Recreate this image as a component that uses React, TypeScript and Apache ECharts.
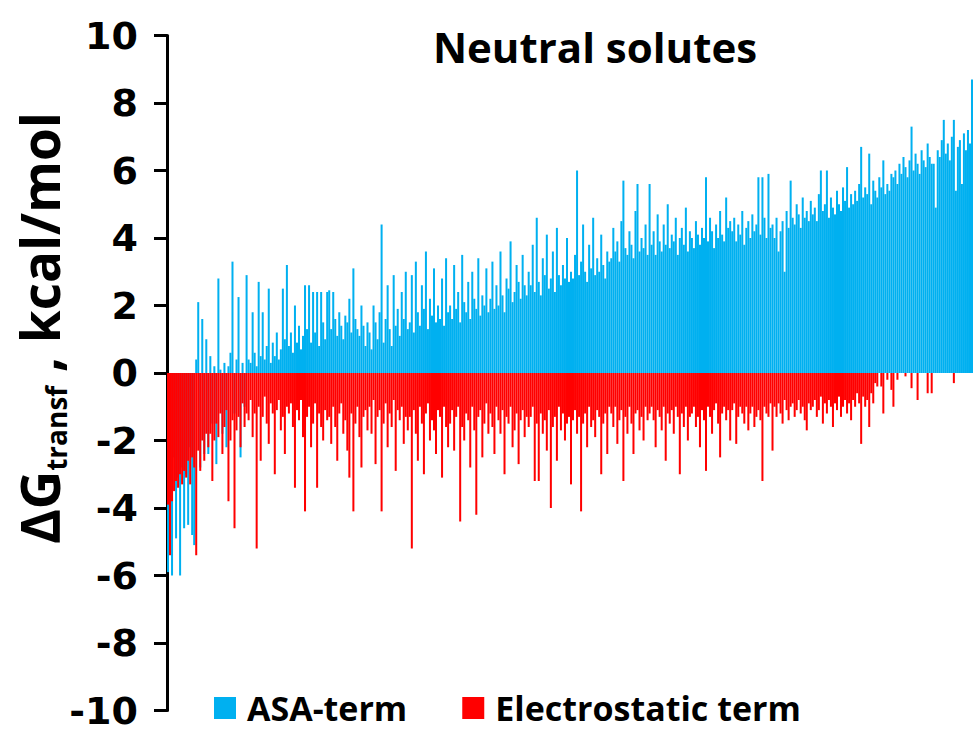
import React, { useEffect, useRef } from "react";
import * as echarts from "echarts";

const TITLE = "Neutral solutes";
const ASA_NAME = "ASA-term";
const ELEC_NAME = "Electrostatic term";
const Y_MIN = -10;
const Y_MAX = 10;
const Y_STEP = 2;

// ASA-term values (kcal/mol), solutes ordered left to right
const asaTerm = [
  -5.9, -3.0, -6.0, -2.5, -4.9, -3.1, -6.0, -2.8, -4.6, -3.0, -4.5, -2.2, -4.8, -5.1, 0.4, 2.1, -2.8, 1.6, -2.4, 1.0,
  -2.4, 0.5, -1.5, 0.2, -2.7, 2.8, 0.1, -1.8, 0.3, -2.2, 0.2, 0.6, 3.3, -1.2, 0.4, 2.25, -2.5, 0.3, -1.0, 2.9,
  0.4, 0.3, 1.8, 0.6, 0.2, 2.7, 0.5, 1.8, 0.4, 0.8, 2.5, 0.3, 0.9, 0.5, 1.2, 0.4, 0.7, 2.5, 1.0, 3.2,
  0.8, 1.2, 0.6, 2.0, 0.9, 1.4, 0.7, 1.1, 2.6, 1.3, 2.6, 0.9, 2.4, 1.2, 2.4, 0.8, 2.4, 1.5, 1.0, 2.4,
  2.45, 1.3, 2.4, 1.6, 1.1, 1.8, 1.4, 1.0, 1.7, 1.5, 2.2, 1.2, 3.1, 1.6, 1.3, 1.1, 2.0, 1.4, 0.8, 1.5,
  1.2, 0.7, 2.0, 1.5, 1.0, 1.8, 4.4, 0.9, 1.6, 2.6, 1.3, 0.8, 2.9, 1.4, 1.9, 1.1, 2.4, 1.6, 3.0, 1.3,
  1.5, 2.9, 1.2, 3.3, 1.8, 1.4, 2.6, 1.9, 3.6, 1.3, 2.2, 1.7, 3.1, 1.5, 2.0, 1.6, 2.8, 1.4, 3.4, 1.8,
  2.0, 1.6, 3.2, 1.9, 2.4, 1.5, 3.5, 2.1, 1.8, 2.7, 1.6, 3.0, 2.2, 1.9, 3.4, 1.7, 2.3, 2.0, 3.1, 1.8,
  2.2, 3.3, 1.9, 2.6, 2.0, 3.6, 2.3, 1.8, 2.8, 2.5, 3.9, 2.1, 2.4, 3.2, 2.7, 2.2, 3.5, 2.6, 2.3, 3.0,
  2.6, 3.8, 2.4, 4.6, 2.7, 2.3, 3.4, 2.9, 4.1, 2.5, 2.8, 3.6, 2.4, 4.3, 2.9, 2.6, 3.2, 2.8, 4.0, 2.7,
  3.0, 2.8, 3.5, 6.0, 2.9, 3.3, 4.4, 3.0, 2.7, 3.8, 3.1, 4.6, 2.9, 3.4, 3.0, 4.1, 3.2, 2.8, 3.6, 3.3,
  3.4, 4.3, 3.6, 3.9, 3.3, 4.5, 5.7, 3.7, 3.5, 4.2, 3.8, 3.4, 4.8, 5.6, 3.6, 4.0, 3.7, 4.4, 3.5, 5.6,
  3.8, 4.2, 3.5, 4.7, 3.9, 3.6, 4.4, 3.8, 5.0, 3.7, 4.1, 3.9, 4.6, 3.5, 4.0, 4.3, 3.8, 4.9, 3.6, 4.2,
  4.0, 3.7, 4.5, 4.1, 3.8, 4.3, 4.0, 5.8, 3.9, 4.6, 4.2, 3.7, 4.4, 4.0, 4.8, 4.1, 3.9, 5.2, 4.3, 4.5,
  4.2, 4.6, 3.9, 4.4, 4.1, 4.8, 3.8, 4.3, 4.5, 4.0, 4.7, 4.2, 4.4, 5.8, 4.1, 5.8, 4.6, 4.0, 5.9, 4.3,
  4.4, 4.0, 4.6, 3.6, 4.2, 4.5, 3.0, 4.8, 4.3, 5.7, 4.6, 4.4, 5.0, 4.7, 4.3, 5.2, 4.6, 4.8, 4.5, 5.1,
  4.7, 4.9, 4.5, 5.3, 6.0, 4.8, 5.0, 6.0, 4.6, 5.2, 4.9, 4.7, 5.4, 5.0, 4.8, 5.5, 5.1, 6.1, 4.9, 5.3,
  5.0, 5.4, 5.1, 5.6, 6.7, 5.2, 5.5, 5.3, 6.5, 5.0, 5.7, 5.4, 5.2, 5.8, 5.5, 6.3, 5.3, 5.6, 5.4, 5.9,
  5.8, 6.0, 5.6, 6.2, 5.9, 6.4, 6.1, 5.8, 6.3, 7.3, 6.0, 6.5, 6.2, 5.9, 6.6, 6.3, 6.1, 6.8, 6.4, 6.2,
  6.2, 4.9, 6.6, 6.4, 6.9, 7.5, 6.5, 6.8, 6.3, 7.0, 7.5, 5.4, 6.7, 6.9, 5.6, 7.1, 6.6, 7.2, 6.8, 8.7,
];

// Electrostatic term values (kcal/mol), same solutes
const electrostaticTerm = [
  -3.9, -5.4, -3.8, -3.5, -3.2, -3.4, -3.0, -3.3, -2.9, -3.1, -2.6, -3.3, -2.5, -2.8, -5.4, -2.3, -2.9, -2.0, -2.6, -1.8,
  -2.2, -1.8, -3.2, -2.0, -1.5, -1.9, -1.2, -2.4, -1.6, -1.1, -3.8, -2.0, -1.4, -4.6, -1.7, -1.3, -2.2, -0.9, -1.6, -1.2,
  -1.4, -0.8, -1.9, -1.2, -5.2, -1.0, -2.6, -1.3, -0.7, -1.5, -2.1, -0.9, -1.2, -3.0, -1.1, -0.8, -1.7, -1.3, -2.4, -1.0,
  -1.2, -0.9, -1.6, -3.4, -1.1, -1.4, -0.8, -1.9, -4.1, -1.3, -1.0, -2.2, -1.5, -0.9, -3.4, -1.2, -1.6, -2.0, -1.1, -1.4,
  -1.3, -2.1, -1.0, -1.6, -2.6, -1.2, -0.9, -1.8, -1.4, -2.3, -3.1, -1.2, -4.1, -1.5, -1.0, -1.9, -2.8, -1.3, -1.1, -1.7,
  -1.0, -1.8, -0.8, -2.7, -1.3, -1.1, -4.1, -1.5, -0.9, -2.2, -1.2, -1.6, -0.8, -2.9, -1.1, -1.4, -1.0, -2.1, -1.3, -1.7,
  -1.3, -5.2, -1.1, -1.8, -2.6, -1.0, -1.5, -3.0, -1.2, -0.9, -2.0, -1.4, -1.7, -2.4, -1.1, -1.3, -3.1, -1.0, -1.6, -2.2,
  -1.5, -1.1, -2.3, -1.3, -1.0, -4.4, -1.6, -2.0, -1.2, -1.4, -2.8, -1.0, -1.7, -4.2, -1.3, -1.1, -2.5, -1.5, -0.9, -1.8,
  -1.2, -1.6, -2.4, -1.0, -1.4, -1.8, -1.1, -3.0, -1.3, -1.5, -1.0, -2.2, -1.7, -1.2, -2.7, -1.4, -1.1, -1.9, -1.3, -1.6,
  -1.3, -1.0, -3.2, -1.5, -3.2, -1.2, -1.8, -1.4, -2.3, -1.1, -4.0, -1.6, -1.3, -2.6, -1.0, -1.7, -1.2, -2.0, -1.5, -1.3,
  -3.3, -1.4, -1.1, -1.8, -1.3, -4.1, -1.5, -1.2, -2.2, -1.0, -1.6, -1.4, -1.9, -1.1, -1.3, -3.0, -1.5, -1.2, -2.4, -1.0,
  -1.2, -1.6, -1.0, -2.1, -1.4, -1.1, -3.2, -1.3, -1.8, -1.0, -1.5, -2.4, -1.2, -1.1, -1.7, -1.3, -2.0, -1.0, -1.4, -1.2,
  -1.0, -1.4, -2.2, -1.1, -1.3, -1.7, -1.0, -2.6, -1.2, -1.5, -1.1, -1.8, -1.0, -1.3, -3.0, -1.2, -1.6, -1.0, -2.0, -1.3,
  -1.2, -1.0, -1.6, -1.3, -2.2, -1.1, -1.4, -2.9, -1.0, -1.3, -1.8, -1.1, -0.9, -1.5, -2.5, -1.2, -1.0, -1.4, -1.1, -2.0,
  -1.1, -0.9, -2.1, -1.3, -1.0, -1.2, -1.5, -1.0, -1.7, -1.2, -1.0, -1.6, -1.3, -1.1, -1.4, -3.2, -1.0, -1.2, -1.3, -0.9,
  -2.3, -1.0, -1.3, -0.9, -1.2, -1.5, -0.8, -1.1, -1.4, -1.0, -0.9, -1.3, -1.1, -0.8, -1.2, -1.0, -1.4, -1.7, -0.9, -1.1,
  -1.0, -0.8, -1.3, -1.1, -0.7, -1.5, -0.9, -1.2, -0.8, -1.0, -1.6, -0.9, -1.1, -0.7, -1.3, -1.0, -0.8, -1.2, -0.9, -1.4,
  -0.8, -1.0, -0.6, -0.9, -2.1, -0.7, -1.0, -0.8, -1.6, -0.6, -0.9, -0.3, -0.4, 0, -0.4, -1.2, 0, -0.2, 0, -0.5,
  -1.0, 0, -0.2, 0, 0, 0, -0.1, 0, 0, -0.45, 0, 0, -0.8, 0, 0, 0, 0, -0.6, 0, -0.6,
  0, 0, 0, 0, 0, 0, 0, 0, 0, 0, -0.3, 0, 0, 0, 0, 0, 0, 0, 0, 0,
];

const solutes = asaTerm.map((_, i) => String(i + 1));

const FONT = "'Open Sans', 'Noto Sans', sans-serif";
const TICK_FONT = "'DejaVu Sans', 'Open Sans', sans-serif";
const BLUE = "#00B0F0";
const RED = "#FF0000";

export default function App() {
  const ref = useRef<HTMLDivElement>(null);

  useEffect(() => {
    if (!ref.current) return;
    const chart = echarts.init(ref.current, null, { renderer: "svg" });
    chart.setOption({
      animation: false,
      backgroundColor: "#ffffff",
      title: {
        text: TITLE,
        left: 590,
        top: 20,
        textAlign: "center",
        textStyle: { fontFamily: FONT, fontWeight: "bold", fontSize: 42, color: "#000" },
      },
      legend: {
        left: 209,
        top: 686,
        icon: "rect",
        itemWidth: 22,
        itemHeight: 22,
        itemGap: 55,
        textStyle: { fontFamily: FONT, fontWeight: "bold", fontSize: 34, color: "#000", padding: [0, 0, 0, 6] },
        data: [ASA_NAME, ELEC_NAME],
      },
      grid: { left: 167, right: 0, top: 35.5, bottom: 20.5, containLabel: false },
      xAxis: {
        type: "category",
        data: solutes,
        boundaryGap: true,
        axisLine: { show: false },
        axisTick: { show: false },
        axisLabel: { show: false },
        splitLine: { show: false },
      },
      yAxis: {
        type: "value",
        min: Y_MIN,
        max: Y_MAX,
        interval: Y_STEP,
        axisLine: { show: true, lineStyle: { color: "#000", width: 3 } },
        axisTick: { show: true, length: 13, lineStyle: { color: "#000", width: 3 } },
        axisLabel: { margin: 29, fontFamily: TICK_FONT, fontWeight: "bold", fontSize: 38, color: "#000" },
        splitLine: { show: false },
      },
      graphic: [
        {
          type: "text",
          x: 39,
          y: 328,
          rotation: Math.PI / 2,
          style: {
            text: "{a|ΔG}{b|transf}{a| , kcal/mol}",
            align: "center",
            verticalAlign: "middle",
            fill: "#000",
            rich: {
              a: { fontFamily: FONT, fontWeight: "bold", fontSize: 53, lineHeight: 62, verticalAlign: "middle" },
              b: { fontFamily: FONT, fontWeight: "bold", fontSize: 28, lineHeight: 62, verticalAlign: "bottom" },
            },
          },
        },
      ],
      series: [
        {
          name: ASA_NAME,
          type: "bar",
          data: asaTerm,
          itemStyle: { color: BLUE },
          barGap: "-100%",
          barCategoryGap: "0%",
          silent: true,
        },
        {
          name: ELEC_NAME,
          type: "bar",
          data: electrostaticTerm,
          itemStyle: { color: RED },
          barGap: "-100%",
          barCategoryGap: "0%",
          silent: true,
        },
      ],
    });
    return () => chart.dispose();
  }, []);

  return (
    <div
      ref={ref}
      style={{ position: "fixed", left: 0, top: 0, width: 973, height: 731, background: "#fff" }}
    />
  );
}
